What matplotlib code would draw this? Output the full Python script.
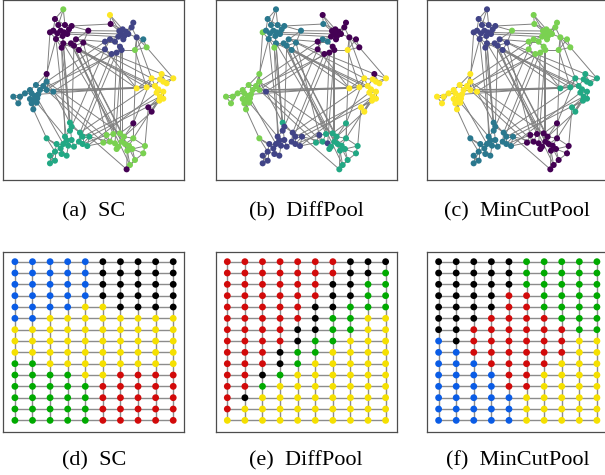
import numpy as np
import matplotlib
matplotlib.use("Agg")
import matplotlib.pyplot as plt
from matplotlib.collections import LineCollection

# ---------------- community graph data (layout coordinates, shared by a/b/c) ----------------
tl_nodes = [(190, 28), (165, 57), (175, 75), (195, 75), (215, 78), (150, 97), (160, 92), (172, 100),
            (182, 92), (192, 97), (202, 102), (207, 88), (188, 108), (168, 117), (190, 130), (185, 143),
            (213, 130), (222, 137), (237, 150), (250, 128), (228, 118), (265, 92)]
tr_nodes = [(330, 45), (332, 72), (400, 68), (395, 82), (358, 93), (368, 88), (378, 95), (363, 102),
            (373, 108), (385, 102), (355, 110), (370, 118), (330, 118), (315, 125), (345, 125), (360, 140),
            (365, 150), (350, 158), (335, 162), (315, 148), (410, 112), (430, 118), (405, 150), (440, 142)]
r_nodes = [(485, 222), (520, 235), (455, 235), (480, 238), (490, 245), (500, 250), (410, 265), (440, 262),
           (465, 258), (475, 268), (470, 278), (490, 275), (480, 290), (478, 302), (490, 296), (445, 322),
           (455, 335)]
br_nodes = [(400, 370), (320, 405), (340, 402), (360, 400), (372, 410), (400, 415), (330, 425), (345, 430),
            (355, 440), (365, 425), (375, 432), (387, 437), (397, 447), (382, 452), (350, 447), (435, 438),
            (430, 460), (405, 480), (390, 495), (380, 508), (310, 428)]
bl_nodes = [(210, 368), (215, 380), (210, 392), (240, 398), (248, 410), (195, 410), (200, 422), (215, 420),
            (190, 432), (205, 437), (222, 440), (237, 425), (248, 432), (262, 438), (140, 415), (170, 432),
            (182, 445), (165, 455), (150, 467), (185, 462), (200, 467), (165, 482), (150, 490), (268, 410)]
l_nodes = [(140, 222), (140, 245), (130, 258), (108, 255), (90, 270), (120, 270), (140, 270), (160, 275),
           (75, 280), (95, 280), (105, 288), (115, 283), (40, 290), (60, 290), (90, 297), (100, 302),
           (112, 295), (55, 310), (95, 310), (110, 308), (100, 328)]

cluster_names = ["tl", "tr", "r", "br", "bl", "l"]

# long edges between communities
cross_edges = [
    (("tl", 10), ("tr", 10)), (("tl", 4), ("tr", 1)), (("tl", 21), ("tr", 4)), (("tl", 20), ("tr", 13)),
    (("tl", 9), ("tr", 7)),
    (("tl", 16), ("r", 6)), (("tl", 17), ("r", 7)), (("tl", 19), ("r", 2)), (("tl", 18), ("r", 8)),
    (("tl", 20), ("r", 0)), (("tl", 14), ("r", 9)),
    (("tl", 14), ("bl", 0)), (("tl", 15), ("bl", 5)), (("tl", 12), ("bl", 2)), (("tl", 13), ("bl", 6)),
    (("tl", 17), ("bl", 1)), (("tl", 15), ("bl", 7)),
    (("tl", 17), ("br", 2)), (("tl", 18), ("br", 4)), (("tl", 19), ("br", 1)), (("tl", 16), ("br", 9)),
    (("tl", 16), ("br", 18)), (("tl", 5), ("l", 1)), (("tl", 13), ("l", 2)), (("tl", 18), ("br", 17)),
    (("tr", 19), ("l", 6)), (("tr", 13), ("l", 1)), (("tr", 18), ("l", 7)), (("tr", 17), ("l", 5)),
    (("tr", 15), ("br", 3)), (("tr", 16), ("br", 9)), (("tr", 17), ("br", 2)), (("tr", 20), ("br", 5)),
    (("tr", 16), ("br", 7)),
    (("tr", 18), ("bl", 3)), (("tr", 19), ("bl", 1)), (("tr", 17), ("bl", 11)),
    (("tr", 20), ("r", 2)), (("tr", 23), ("r", 1)), (("tr", 22), ("r", 7)), (("tr", 19), ("r", 6)),
    (("r", 6), ("l", 7)), (("r", 7), ("l", 6)), (("r", 8), ("l", 11)), (("r", 6), ("l", 6)),
    (("r", 12), ("bl", 4)), (("r", 10), ("bl", 13)), (("r", 13), ("bl", 23)), (("r", 7), ("bl", 3)),
    (("r", 12), ("br", 5)), (("r", 15), ("br", 15)), (("r", 16), ("br", 4)), (("r", 2), ("br", 0)),
    (("l", 20), ("bl", 14)), (("l", 19), ("bl", 5)), (("l", 7), ("bl", 0)), (("l", 16), ("bl", 8)),
    (("l", 7), ("br", 6)), (("l", 6), ("br", 20)), (("l", 1), ("br", 3)),
    (("bl", 13), ("br", 20)), (("bl", 23), ("br", 6)), (("bl", 12), ("br", 1)),
    (("bl", 23), ("br", 19)), (("tl", 14), ("br", 13)),
]

# colour index (0..5 on viridis) of each community in each panel
panel_cluster_colors = {
    "a": {"tl": 0, "tr": 1, "r": 5, "br": 4, "bl": 3, "l": 2},
    "b": {"tl": 2, "tr": 0, "r": 5, "br": 3, "bl": 1, "l": 4},
    "c": {"tl": 1, "tr": 4, "r": 3, "br": 0, "bl": 2, "l": 5},
}
panel_exceptions = {
    "a": {("tl", 0): 4, ("tr", 0): 5, ("tr", 1): 0, ("tr", 21): 2, ("tr", 22): 4, ("tr", 23): 4,
          ("r", 15): 0, ("r", 16): 0, ("br", 0): 0, ("br", 19): 0, ("l", 0): 0},
    "b": {("tl", 5): 4, ("tl", 15): 4, ("tr", 1): 2, ("tr", 12): 2, ("tr", 14): 2, ("tr", 22): 5,
          ("r", 0): 0, ("br", 1): 1, ("br", 7): 1, ("bl", 0): 3, ("bl", 14): 4, ("l", 7): 1},
    "c": {("tl", 21): 4},
}

# ---------------- grid graph data ----------------
grid_sc = ["BBBBBKKKKK", "BBBBBKKKKK", "BBBBBKKKKK", "BBBBBKKKKK", "BBBBYYKKKK",
           "BBYYYYYYYY", "YYYYYYYYYY", "YYYYYYYYYY", "YYYYYYYYYY", "GGYYYYYYYY",
           "GGGGYYRRRR", "GGGGGRRRRR", "GGGGGRRRRR", "GGGGGRRRRR", "GGGGGRRRRR"]
grid_diffpool = ["RRRRRRRKKK", "RRRRRRRKKG", "RRRRRRKKGG", "RRRRRRKKGG", "RRRRRKKGGG",
                 "RRRRRKGGYY", "RRRRKKGGYY", "RRRRKGGYYY", "RRRKGGYYYY", "RRRKGYYYYY",
                 "RRKGYYYYYY", "RRGYYYYYYY", "RKYYYYYYYY", "RYYYYYYYYY", "YYYYYYYYYY"]
grid_mincut = ["KKKKKGGGGG", "KKKKKGGGGG", "KKKKKGGGGG", "KKKKRRGGGG", "KKKKRRGGGG",
               "KKKRRRRGGG", "KKRRRRRRGG", "BKRRRRRRYY", "BBRRRRRRYY", "BBBRRRRYYY",
               "BBBBRRYYYY", "BBBBRRYYYY", "BBBBBYYYYY", "BBBBBYYYYY", "BBBBBYYYYY"]
grid_palette = {"B": "#0a5ce6", "K": "#000000", "Y": "#f5e000", "G": "#00aa00", "R": "#d20a0a"}

captions_top = ["(a)  SC", "(b)  DiffPool", "(c)  MinCutPool"]
captions_bottom = ["(d)  SC", "(e)  DiffPool", "(f)  MinCutPool"]

# ---------------- figure ----------------
W, H = 605, 475
fig = plt.figure(figsize=(W / 100, H / 100), dpi=100)
plt.rcParams["font.family"] = ["Liberation Serif", "DejaVu Serif"]


def add_ax(x, y_top, w, h):
    ax = fig.add_axes([x / W, 1 - (y_top + h) / H, w / W, h / H])
    ax.set_xticks([])
    ax.set_yticks([])
    for s in ax.spines.values():
        s.set_color("#4d4d4d")
        s.set_linewidth(0.9)
    return ax


clusters = {"tl": tl_nodes, "tr": tr_nodes, "r": r_nodes, "br": br_nodes, "bl": bl_nodes, "l": l_nodes}

# intra-community edges: each node joined to its nearest neighbours in its community
intra_edges = set()
for name in cluster_names:
    pts = np.array(clusters[name], dtype=float)
    for i in range(len(pts)):
        d = np.hypot(*(pts - pts[i]).T)
        d[i] = np.inf
        for j in np.argsort(d)[:3]:
            intra_edges.add(((name, min(i, j)), (name, max(i, j))))


def pos(key):
    return clusters[key[0]][key[1]]


all_edges = sorted(intra_edges) + cross_edges
segs = [[pos(a), pos(b)] for a, b in all_edges]
viridis = plt.cm.viridis(np.linspace(0, 1, 6))

top_x = [3.3, 216, 427]
for k, panel in enumerate(["a", "b", "c"]):
    ax = add_ax(top_x[k], -0.5, 181, 180.5)
    ax.add_collection(LineCollection(segs, colors="#808080", linewidths=0.7, zorder=1))
    xs, ys, cs = [], [], []
    for name in cluster_names:
        for i, (x, y) in enumerate(clusters[name]):
            ci = panel_exceptions[panel].get((name, i), panel_cluster_colors[panel][name])
            xs.append(x)
            ys.append(y)
            cs.append(viridis[ci])
    ax.scatter(xs, ys, s=19, c=cs, linewidths=0, zorder=2)
    ax.set_xlim(10, 553)
    ax.set_ylim(540, -1.5)
    fig.text((top_x[k] + 90.5) / W, 1 - 212 / H, captions_top[k], ha="center", va="center", fontsize=16)

bot_x = [3.3, 215.7, 427]
grids = [grid_sc, grid_diffpool, grid_mincut]
for k, grid in enumerate(grids):
    ax = add_ax(bot_x[k], 251.7, 181, 180)
    nr, nc = len(grid), len(grid[0])
    gsegs = []
    for r in range(nr):
        gsegs.append([(0, r), (nc - 1, r)])
    for c in range(nc):
        gsegs.append([(c, 0), (c, nr - 1)])
    ax.add_collection(LineCollection(gsegs, colors="#8c8c8c", linewidths=1.0, zorder=1))
    xs, ys, cs = [], [], []
    for r in range(nr):
        for c in range(nc):
            xs.append(c)
            ys.append(r)
            cs.append(grid_palette[grid[r][c]])
    ax.scatter(xs, ys, s=24, c=cs, linewidths=0, zorder=2)
    ax.set_xlim(-0.66, nc - 1 + 0.63)
    ax.set_ylim(nr - 1 + 1.0, -0.88)
    fig.text((bot_x[k] + 90.5) / W, 1 - 461 / H, captions_bottom[k], ha="center", va="center", fontsize=16)

fig.savefig("out.png", dpi=100)
